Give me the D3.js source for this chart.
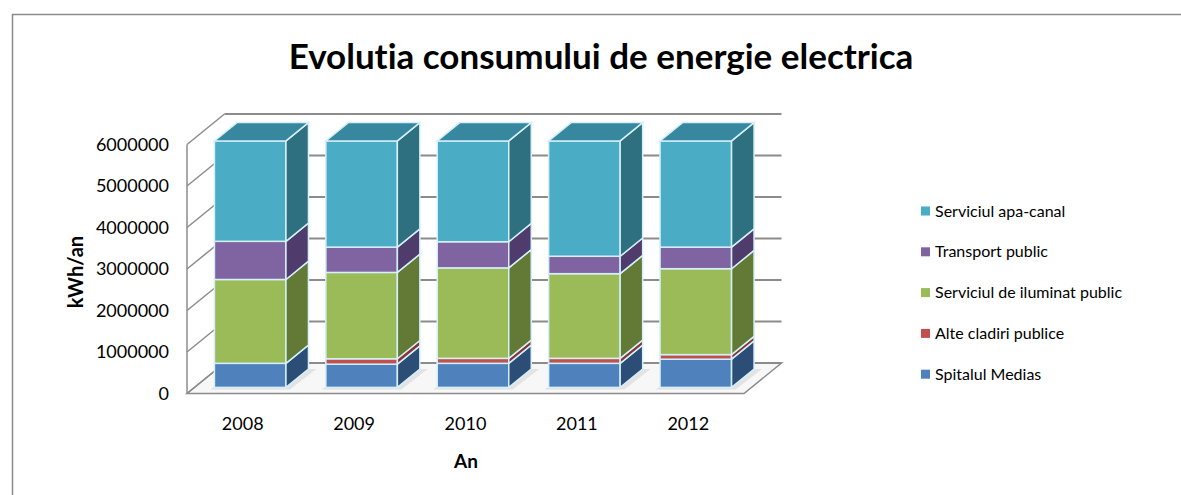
<!DOCTYPE html>
<html>
<head>
<meta charset="utf-8">
<script src="https://cdn.jsdelivr.net/npm/d3@7"></script>
<style>
  html, body { margin: 0; padding: 0; background: #fff; }
  svg { display: block; }
  text { font-family: Lato, "Open Sans", sans-serif; fill: #000; font-variant-ligatures: none; }
</style>
</head>
<body>
<svg id="chart" width="1181" height="495"></svg>
<script>
// Annual electricity consumption (kWh/an) per consumer group
const years = ["2008", "2009", "2010", "2011", "2012"];
const spitalulMedias   = [580000, 560000, 580000, 580000, 680000];
const alteCladiri      = [0, 130000, 120000, 120000, 110000];
const iluminatPublic   = [2020000, 2080000, 2180000, 2040000, 2070000];
const transportPublic  = [920000, 610000, 630000, 420000, 520000];
const apaCanal         = [2420000, 2560000, 2430000, 2780000, 2560000];

const seriesNames = ["Spitalul Medias", "Alte cladiri publice", "Serviciul de iluminat public",
                     "Transport public", "Serviciul apa-canal"];
const yTicks = [0, 1000000, 2000000, 3000000, 4000000, 5000000, 6000000];

const seriesValues = [spitalulMedias, alteCladiri, iluminatPublic, transportPublic, apaCanal];
const palette = [
  { front: "#4f81bd", side: "#2c4d76", top: "#3d679a" },
  { front: "#c0504d", side: "#8a3331", top: "#a5403d" },
  { front: "#9bbb59", side: "#627a35", top: "#7f9b48" },
  { front: "#8064a2", side: "#4f3b6c", top: "#654e85" },
  { front: "#4bacc6", side: "#2e7080", top: "#37889e" }
];

const svg = d3.select("#chart");

// outer chart frame
svg.append("rect")
  .attr("x", 12.5).attr("y", 14.5).attr("width", 1180).attr("height", 500)
  .attr("fill", "none").attr("stroke", "#8a8a8a").attr("stroke-width", 1.5);

// title
svg.append("text")
  .attr("x", 601).attr("y", 69)
  .attr("text-anchor", "middle")
  .attr("font-size", 35).attr("font-weight", 700)
  .text("Evolutia consumului de energie electrica");

// table of rows for the stack
const rows = years.map((yr, i) => {
  const r = { year: yr };
  seriesNames.forEach((s, k) => { r[s] = seriesValues[k][i]; });
  return r;
});
const stacked = d3.stack().keys(seriesNames)(rows);

// front-plane scales of the 3D box
const x = d3.scaleBand().domain(years).range([187, 744]).paddingInner(0.358).paddingOuter(0.179);
const y = d3.scaleLinear().domain([0, 6000000]).range([393.5, 144.5]);

// depth vector of the whole plot box and the depth slice occupied by the bars
const depth = { dx: 37.5, dy: -30.5 };
const barFront = 0.2, barBack = 0.8;
const bx0 = depth.dx * barFront, by0 = depth.dy * barFront;
const bdx = depth.dx * (barBack - barFront), bdy = depth.dy * (barBack - barFront);

const x0 = x.range()[0], x1 = x.range()[1];
const yMin = y(0);

const walls = svg.append("g");
const gridColor = "#8c8c8c";

// floor
walls.append("path")
  .attr("d", `M${x0},${yMin} L${x1},${yMin} L${x1 + depth.dx},${yMin + depth.dy} L${x0 + depth.dx},${yMin + depth.dy} Z`)
  .attr("fill", "#f7f7f7").attr("stroke", gridColor).attr("stroke-width", 1.5);

// back-wall gridlines
walls.selectAll("line.hgrid").data(yTicks).join("line")
  .attr("class", "hgrid")
  .attr("x1", x0 + depth.dx).attr("x2", x1 + depth.dx)
  .attr("y1", d => y(d) + depth.dy).attr("y2", d => y(d) + depth.dy)
  .attr("stroke", gridColor).attr("stroke-width", 2);

// side-wall gridlines
walls.selectAll("line.dgrid").data(yTicks).join("line")
  .attr("class", "dgrid")
  .attr("x1", x0).attr("x2", x0 + depth.dx)
  .attr("y1", d => y(d)).attr("y2", d => y(d) + depth.dy)
  .attr("stroke", gridColor).attr("stroke-width", 1.5);

// front edge of the side wall
walls.append("line")
  .attr("x1", x0).attr("x2", x0)
  .attr("y1", y(6000000)).attr("y2", yMin)
  .attr("stroke", gridColor).attr("stroke-width", 1.5);

// soft shadows of the columns on the floor
const shadows = svg.append("g");
years.forEach(yr => {
  const l = x(yr) + bx0, r = x(yr) + x.bandwidth() + bx0, b = yMin + by0;
  shadows.append("path")
    .attr("d", `M${l - 4},${b + 2} L${r + 4},${b + 2} L${r + bdx + 8},${b + bdy} L${l + bdx},${b + bdy} Z`)
    .attr("fill", "#d6d6d6").attr("opacity", 0.6);
});

// columns
const bars = svg.append("g");
const edge = "#d4f0fa";
years.forEach((yr, i) => {
  const g = bars.append("g");
  const l = x(yr) + bx0, r = l + x.bandwidth();
  stacked.forEach((layer, k) => {
    const [v0, v1] = layer[i];
    if (v1 - v0 <= 0) return;
    const yb = y(v0) + by0, yt = y(v1) + by0;
    const c = palette[k];
    g.append("rect")
      .attr("x", l).attr("y", yt).attr("width", r - l).attr("height", yb - yt)
      .attr("fill", c.front).attr("stroke", edge).attr("stroke-width", 1.5);
    g.append("path")
      .attr("d", `M${r},${yb} L${r + bdx},${yb + bdy} L${r + bdx},${yt + bdy} L${r},${yt} Z`)
      .attr("fill", c.side).attr("stroke", edge).attr("stroke-width", 1.5);
  });
  const topLayer = stacked[stacked.length - 1][i];
  const yt = y(topLayer[1]) + by0;
  g.append("path")
    .attr("d", `M${l},${yt} L${r},${yt} L${r + bdx},${yt + bdy} L${l + bdx},${yt + bdy} Z`)
    .attr("fill", palette[4].top).attr("stroke", edge).attr("stroke-width", 1.5);
});

// value axis labels
svg.append("g").selectAll("text").data(yTicks).join("text")
  .attr("x", 169).attr("y", d => y(d))
  .attr("dy", "0.35em")
  .attr("text-anchor", "end")
  .attr("font-size", 18)
  .text(d => d3.format("d")(d));

// category labels
svg.append("g").selectAll("text").data(years).join("text")
  .attr("x", d => x(d) + x.bandwidth() / 2).attr("y", 424)
  .attr("dy", "0.35em")
  .attr("text-anchor", "middle")
  .attr("font-size", 18)
  .text(d => d);

// axis titles
svg.append("text")
  .attr("transform", "translate(76,272) rotate(-90)")
  .attr("text-anchor", "middle").attr("dy", "0.35em")
  .attr("font-size", 20).attr("font-weight", 700)
  .text("kWh/an");

svg.append("text")
  .attr("x", 466).attr("y", 461).attr("dy", "0.35em")
  .attr("text-anchor", "middle")
  .attr("font-size", 19).attr("font-weight", 700)
  .text("An");

// legend, listed from the top of the stack down
const legendItems = seriesNames.map((s, k) => ({ name: s, color: palette[k].front })).reverse();
const legend = svg.append("g").attr("transform", "translate(921,211)");
const li = legend.selectAll("g").data(legendItems).join("g")
  .attr("transform", (d, j) => `translate(0,${j * 40.8})`);
li.append("rect").attr("x", 0).attr("y", -4.5).attr("width", 9).attr("height", 9)
  .attr("fill", d => d.color);
li.append("text").attr("x", 14).attr("y", 0).attr("dy", "0.35em")
  .attr("font-size", 16)
  .text(d => d.name);
</script>
</body>
</html>
